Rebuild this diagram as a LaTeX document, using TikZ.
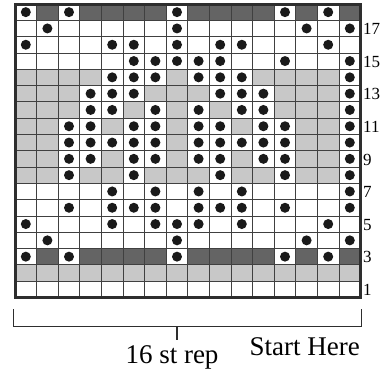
\documentclass[tikz,border=0pt]{standalone}
\usepackage{fontspec}
\setmainfont{Liberation Serif}
\definecolor{darkcell}{HTML}{646464}
\definecolor{lightcell}{HTML}{C8C8C8}
\definecolor{gridline}{HTML}{404040}
\definecolor{framecol}{HTML}{2E2E2E}
\definecolor{dotcol}{HTML}{1A1A1A}
\begin{document}
\begin{tikzpicture}[x=1pt,y=-1pt,
  gridstyle/.style={draw=gridline,line width=0.8pt},
  framestyle/.style={draw=framecol,line width=3pt},
  dotstyle/.style={fill=dotcol},
  bracketstyle/.style={draw=framecol,line width=1.8pt},
  rownum/.style={anchor=base west,inner sep=0pt,font=\fontsize{17}{18}\selectfont},
  bigtext/.style={inner sep=0pt,font=\fontsize{27}{29}\selectfont}]
\useasboundingbox (0,0) rectangle (385,372);
\def\X{15}\def\W{21.6}\def\Y{4}\def\H{16.3}
% background bands
\fill[lightcell] (\X,{\Y+16*\H}) rectangle ({\X+16*\W},{\Y+17*\H}); % row 2
\fill[darkcell] (\X,{\Y+15*\H}) rectangle ({\X+16*\W},{\Y+16*\H}); % row 3
\fill[darkcell] (\X,\Y) rectangle ({\X+16*\W},{\Y+\H}); % row 18
\fill[lightcell] (\X,{\Y+4*\H}) rectangle ({\X+16*\W},{\Y+11*\H}); % rows 14..8
% rows with their purl dots
\foreach \r/\dl in {18/{0,2,7,12,14},17/{1,7,13,15},16/{0,4,5,7,9,10,14},15/{5,6,7,8,9,12,15},
  14/{4,5,6,8,9,10,15},13/{3,4,5,9,10,11,15},12/{3,4,6,8,10,11,15},11/{2,3,5,6,8,9,11,12,15},
  10/{2,3,4,5,6,8,9,10,11,12,15},9/{2,3,5,6,8,9,11,12,15},8/{2,5,9,12,15},7/{4,6,8,10,15},
  6/{2,4,5,6,8,9,10,12,15},5/{0,4,6,7,8,10,14},4/{1,7,13,15},3/{0,2,7,12,14}}{
  \foreach \c in \dl {
    \fill[white] ({\X+\c*\W},{\Y+(18-\r)*\H}) rectangle ({\X+(\c+1)*\W},{\Y+(19-\r)*\H});
  }
}
% grid
\foreach \c in {1,...,15} {\draw[gridstyle] ({\X+\c*\W},\Y) -- ({\X+\c*\W},{\Y+18*\H});}
\foreach \r in {1,...,17} {\draw[gridstyle] (\X,{\Y+\r*\H}) -- ({\X+16*\W},{\Y+\r*\H});}
% dots
\foreach \r/\dl in {18/{0,2,7,12,14},17/{1,7,13,15},16/{0,4,5,7,9,10,14},15/{5,6,7,8,9,12,15},
  14/{4,5,6,8,9,10,15},13/{3,4,5,9,10,11,15},12/{3,4,6,8,10,11,15},11/{2,3,5,6,8,9,11,12,15},
  10/{2,3,4,5,6,8,9,10,11,12,15},9/{2,3,5,6,8,9,11,12,15},8/{2,5,9,12,15},7/{4,6,8,10,15},
  6/{2,4,5,6,8,9,10,12,15},5/{0,4,6,7,8,10,14},4/{1,7,13,15},3/{0,2,7,12,14}}{
  \foreach \c in \dl {
    \fill[dotstyle] ({\X+(\c+0.5)*\W},{\Y+(18.5-\r)*\H}) circle (5);
  }
}
% frame
\draw[framestyle] (\X,\Y) rectangle ({\X+16*\W},{\Y+18*\H});
% row numbers
\foreach \r in {1,3,...,17} {
  \node[rownum] (n\r) at (363,{\Y+(19-\r)*\H-2}) {\r};
}
% bracket
\coordinate (bl) at (13.5,309);
\coordinate (br) at (361.5,309);
\coordinate (bm) at (176.7,326.5);
\coordinate (bt) at (176.7,340);
\draw[bracketstyle] (bl) |- (bm) -| (br);
\draw[bracketstyle] (bm) -- (bt);
\node[bigtext,anchor=base] (rep) at (172,363) {16 st rep};
\node[bigtext,anchor=base east] (start) at (360,355) {Start Here};
\end{tikzpicture}
\end{document}
